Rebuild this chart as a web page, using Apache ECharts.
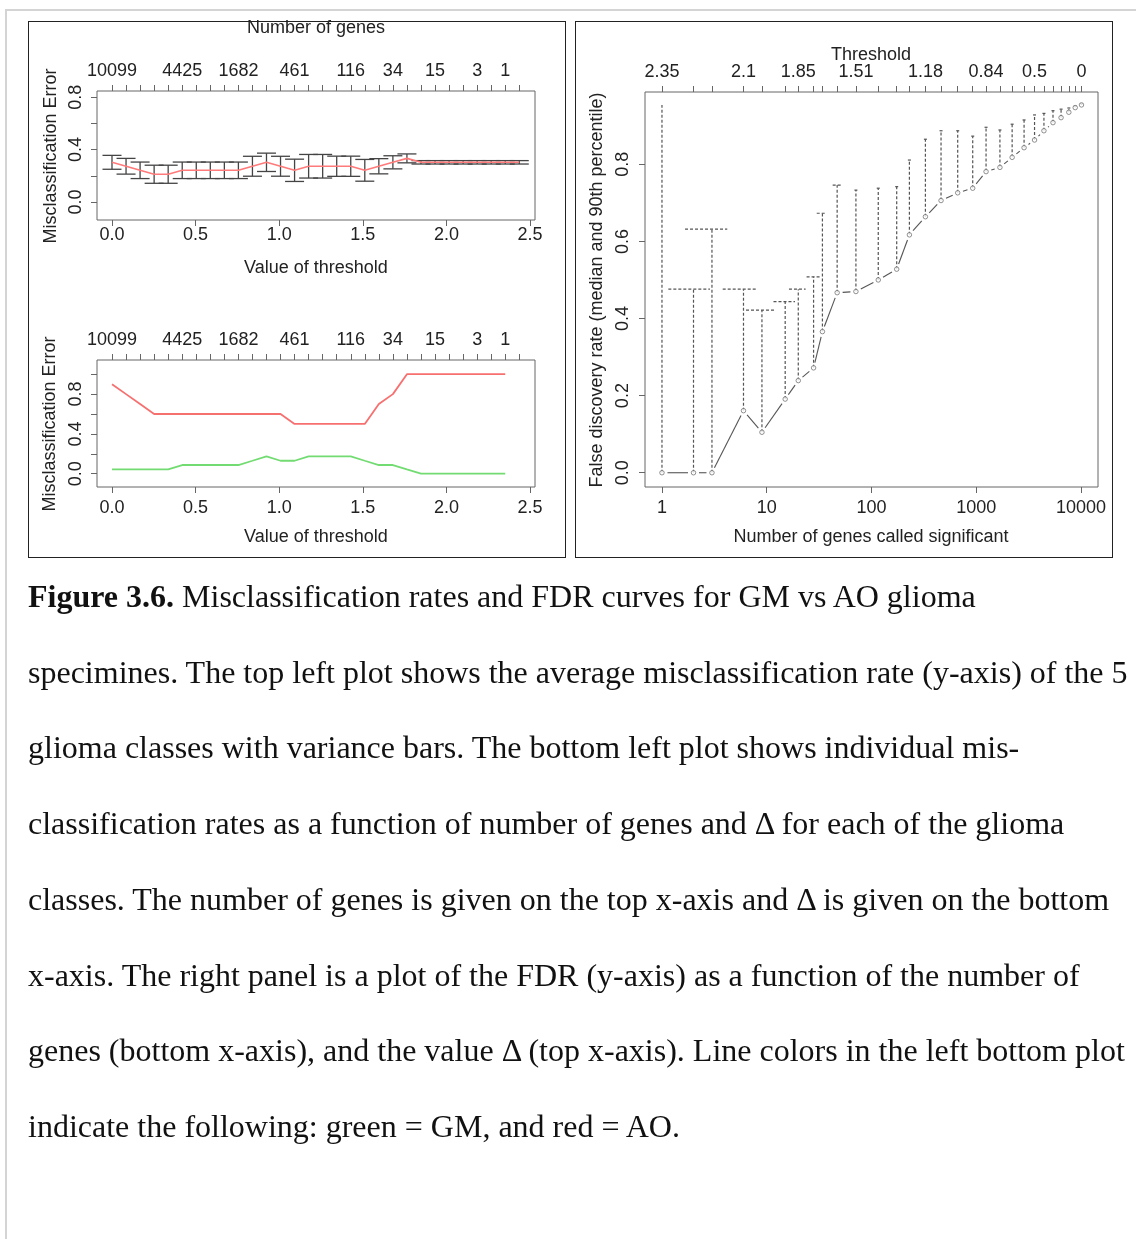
<!DOCTYPE html>
<html>
<head>
<meta charset="utf-8">
<script src="https://cdn.jsdelivr.net/npm/echarts@6/dist/echarts.min.js"></script>
<style>
html, body { margin: 0; padding: 0; background: #fff; }
body { width: 1136px; height: 1239px; position: relative; overflow: hidden; }
.frame { position: absolute; left: 5px; top: 9px; right: -4px; bottom: -4px; border-top: 2px solid #d4d4d4; border-left: 2px solid #d4d4d4; }
.panel { position: absolute; top: 21px; width: 538px; height: 537px; border: 1px solid #222; box-sizing: border-box; }
#chart { position: absolute; left: 0; top: 0; width: 1136px; height: 560px; }
.caption { position: absolute; left: 28px; top: 559px; font-family: "Liberation Serif", "Times New Roman", serif; font-size: 32px; line-height: 75.7px; color: #111; white-space: nowrap; }
</style>
</head>
<body>
<div class="frame"></div>
<div class="panel" style="left:28px"></div>
<div class="panel" style="left:575px"></div>
<div id="chart"></div>
<div class="caption"><b>Figure 3.6.</b> Misclassification rates and FDR curves for GM vs AO glioma<br>specimines. The top left plot shows the average misclassification rate (y-axis) of the 5<br>glioma classes with variance bars. The bottom left plot shows individual mis-<br>classification rates as a function of number of genes and Δ for each of the glioma<br>classes. The number of genes is given on the top x-axis and Δ is given on the bottom<br>x-axis. The right panel is a plot of the FDR (y-axis) as a function of the number of<br>genes (bottom x-axis), and the value Δ (top x-axis). Line colors in the left bottom plot<br>indicate the following: green = GM, and red = AO.</div>
<script>
// thresholds used by the classifier and genes kept at each one
var thresholds = [0, 0.084, 0.168, 0.252, 0.336, 0.42, 0.504, 0.588, 0.672, 0.756,
  0.84, 0.924, 1.008, 1.092, 1.176, 1.26, 1.344, 1.428, 1.512, 1.596,
  1.68, 1.764, 1.848, 1.932, 2.016, 2.1, 2.184, 2.268, 2.352, 2.436];
var genesAtThreshold = [10099, 8800, 7650, 6450, 5400, 4425, 3600, 2860, 2200, 1682,
  1240, 925, 665, 461, 327, 230, 174, 116, 71, 47,
  34, 28, 20, 15, 9, 6, 3, 2, 1, 0];
var genesLabelIdx = [0, 5, 9, 13, 17, 20, 23, 26, 28];

// top left: mean error and its spread
var errMean = [0.303, 0.273, 0.242, 0.212, 0.212, 0.242, 0.242, 0.242, 0.242, 0.242,
  0.273, 0.303, 0.273, 0.242, 0.273, 0.273, 0.273, 0.273, 0.242, 0.273,
  0.303, 0.333, 0.303, 0.303, 0.303, 0.303, 0.303, 0.303, 0.303, 0.303];
var errSE = [0.053, 0.06, 0.063, 0.069, 0.069, 0.063, 0.063, 0.063, 0.063, 0.063,
  0.076, 0.07, 0.076, 0.085, 0.09, 0.09, 0.077, 0.077, 0.083, 0.058,
  0.05, 0.034, 0.013, 0.013, 0.013, 0.013, 0.013, 0.013, 0.013, 0.013];

// bottom left: error per class
var errAO = [0.9, 0.8, 0.7, 0.6, 0.6, 0.6, 0.6, 0.6, 0.6, 0.6,
  0.6, 0.6, 0.6, 0.5, 0.5, 0.5, 0.5, 0.5, 0.5, 0.7,
  0.8, 1.0, 1.0, 1.0, 1.0, 1.0, 1.0, 1.0, 1.0];
var errGM = [0.043, 0.043, 0.043, 0.043, 0.043, 0.087, 0.087, 0.087, 0.087, 0.087,
  0.13, 0.174, 0.13, 0.13, 0.174, 0.174, 0.174, 0.174, 0.13, 0.087,
  0.087, 0.043, 0, 0, 0, 0, 0, 0, 0];

// right: FDR
var fdrGenes = [1, 2, 3, 6, 9, 15, 20, 28, 34, 47, 71, 116, 174, 230, 327, 461, 665, 925,
  1240, 1682, 2200, 2860, 3600, 4425, 5400, 6450, 7650, 8800, 10099];
var fdrMedian = [0, 0, 0, 0.161, 0.105, 0.191, 0.239, 0.272, 0.366, 0.467, 0.47, 0.5, 0.528,
  0.617, 0.664, 0.706, 0.726, 0.738, 0.781, 0.792, 0.818, 0.843, 0.863, 0.887, 0.908,
  0.921, 0.935, 0.947, 0.954];
var fdr90 = [0.954, 0.476, 0.632, 0.476, 0.422, 0.444, 0.476, 0.508, 0.673, 0.746, 0.733,
  0.738, 0.742, 0.811, 0.865, 0.887, 0.887, 0.873, 0.896, 0.889, 0.904, 0.915, 0.928,
  0.932, 0.939, 0.943, 0.946, 0.951, 0.957];
var capLow = [1, 1.15, 1.66, 3.8, 6.34, 11.6, 16.3, 24, 30, 42.6];
var capHigh = [1, 2.87, 4.2, 8.1, 12, 18.6, 23.5, 32.2, 37.3, 53];
var thresholdLabelGenes = [1, 6, 20, 71, 327, 1240, 3600, 10099];

var FONT = "Liberation Sans, Arial, sans-serif";
var TXT = "#222";
var TICK = { show: true, length: 6, lineStyle: { color: "#666", width: 1 } };

function idxOf(arr, v) {
  for (var i = 0; i < arr.length; i++) if (Math.abs(arr[i] - v) < 1e-6) return i;
  return -1;
}

function valAxis(grid, pos, min, max, ticks, labels, fmt, margin, rotate) {
  return {
    type: "value", gridIndex: grid, position: pos, min: min, max: max,
    axisLine: { show: false, onZero: false }, splitLine: { show: false },
    axisTick: Object.assign({ customValues: ticks }, TICK),
    axisLabel: { customValues: labels, formatter: fmt, color: TXT, fontSize: 18,
      fontFamily: FONT, margin: margin, rotate: rotate || 0 }
  };
}

var oneDec = function (v) { return v.toFixed(1); };
var geneLabel = function (v) { return String(genesAtThreshold[idxOf(thresholds, v)]); };
var logLabel = function (v) { return String(Math.round(Math.pow(10, v))); };
var thrLabel = function (v) {
  var g = Math.round(Math.pow(10, v));
  return String(Number(thresholds[genesAtThreshold.indexOf(g)].toFixed(2)));
};

var xThr = [0, 0.5, 1, 1.5, 2, 2.5];
var topLabelThr = genesLabelIdx.map(function (i) { return thresholds[i]; });
var logG = fdrGenes.map(function (g) { return Math.log10(g); });

function errBar(params, api) {
  var x = api.value(0);
  var a = api.coord([x, api.value(1)]);
  var b = api.coord([x, api.value(2)]);
  var w = 9.5;
  var st = { stroke: "#444", lineWidth: 1.3 };
  return { type: "group", children: [
    { type: "line", shape: { x1: a[0], y1: a[1], x2: b[0], y2: b[1] }, style: st },
    { type: "line", shape: { x1: a[0] - w, y1: a[1], x2: a[0] + w, y2: a[1] }, style: st },
    { type: "line", shape: { x1: b[0] - w, y1: b[1], x2: b[0] + w, y2: b[1] }, style: st }
  ]};
}

function fdrBar(params, api) {
  var x = api.value(0), up = api.value(2);
  var a = api.coord([x, api.value(1)]);
  var b = api.coord([x, up]);
  var cl = api.value(3), ch = api.value(4);
  var c1, c2;
  if (isNaN(cl)) { c1 = [b[0] - 1.5, b[1]]; c2 = [b[0] + 1.5, b[1]]; }
  else { c1 = api.coord([cl, up]); c2 = api.coord([ch, up]); }
  var st = { stroke: "#555", lineWidth: 1.2, lineDash: [3, 2] };
  return { type: "group", children: [
    { type: "line", shape: { x1: a[0], y1: a[1], x2: b[0], y2: b[1] }, style: st },
    { type: "line", shape: { x1: c1[0], y1: c1[1], x2: c2[0], y2: c2[1] }, style: st }
  ]};
}

// R's type="b": solid segments that stop short of each point
function gapSegment(params, api) {
  var p = api.coord([api.value(0), api.value(1)]);
  var q = api.coord([api.value(2), api.value(3)]);
  var dx = q[0] - p[0], dy = q[1] - p[1];
  var d = Math.sqrt(dx * dx + dy * dy);
  var gap = 5.5;
  if (d <= 2 * gap) return null;
  var ux = dx / d, uy = dy / d;
  return { type: "line",
    shape: { x1: p[0] + ux * gap, y1: p[1] + uy * gap, x2: q[0] - ux * gap, y2: q[1] - uy * gap },
    style: { stroke: "#555", lineWidth: 1.1 } };
}

function label(text, x, y, rot) {
  return { type: "text", x: x, y: y, rotation: rot || 0,
    style: { text: text, fill: TXT, fontSize: 18, fontFamily: FONT, align: "center", verticalAlign: "middle" } };
}

var chart = echarts.init(document.getElementById("chart"));
chart.setOption({
  animation: false,
  grid: [
    { left: 97, top: 91, width: 438, height: 129, show: true, borderColor: "#666", borderWidth: 1, outerBoundsMode: "none" },
    { left: 97, top: 360, width: 438, height: 127, show: true, borderColor: "#666", borderWidth: 1, outerBoundsMode: "none" },
    { left: 645, top: 92, width: 453, height: 395, show: true, borderColor: "#666", borderWidth: 1, outerBoundsMode: "none" }
  ],
  xAxis: [
    valAxis(0, "bottom", -0.0897, 2.53, xThr, xThr, oneDec, 6),
    valAxis(0, "top", -0.0897, 2.53, thresholds, topLabelThr, geneLabel, 11),
    valAxis(1, "bottom", -0.0897, 2.53, xThr, xThr, oneDec, 12),
    valAxis(1, "top", -0.0897, 2.53, thresholds, topLabelThr, geneLabel, 11),
    valAxis(2, "bottom", -0.162, 4.162, [0, 1, 2, 3, 4], [0, 1, 2, 3, 4], logLabel, 12),
    valAxis(2, "top", -0.162, 4.162, logG,
      thresholdLabelGenes.map(function (g) { return Math.log10(g); }), thrLabel, 11)
  ],
  yAxis: [
    valAxis(0, "left", -0.137, 0.847, [0, 0.2, 0.4, 0.6, 0.8], [0, 0.4, 0.8], oneDec, 12, 90),
    valAxis(1, "left", -0.134, 1.143, [0, 0.2, 0.4, 0.6, 0.8, 1.0], [0, 0.4, 0.8], oneDec, 12, 90),
    valAxis(2, "left", -0.037, 0.9875, [0, 0.2, 0.4, 0.6, 0.8], [0, 0.2, 0.4, 0.6, 0.8], oneDec, 13, 90)
  ],
  series: [
    { type: "custom", xAxisIndex: 0, yAxisIndex: 0, renderItem: errBar,
      data: thresholds.map(function (t, i) { return [t, errMean[i] - errSE[i], errMean[i] + errSE[i]]; }) },
    { type: "line", xAxisIndex: 0, yAxisIndex: 0, symbol: "none", z: 3,
      lineStyle: { color: "#ff7a7a", width: 1.6 },
      data: thresholds.map(function (t, i) { return [t, errMean[i]]; }) },
    { type: "line", xAxisIndex: 2, yAxisIndex: 1, symbol: "none",
      lineStyle: { color: "#f77070", width: 1.8 },
      data: errAO.map(function (v, i) { return [thresholds[i], v]; }) },
    { type: "line", xAxisIndex: 2, yAxisIndex: 1, symbol: "none",
      lineStyle: { color: "#72dc72", width: 1.8 },
      data: errGM.map(function (v, i) { return [thresholds[i], v]; }) },
    { type: "custom", xAxisIndex: 4, yAxisIndex: 2, renderItem: fdrBar,
      data: fdrGenes.map(function (g, i) {
        return [logG[i], fdrMedian[i], fdr90[i],
          i < capLow.length ? Math.log10(capLow[i]) : null,
          i < capHigh.length ? Math.log10(capHigh[i]) : null];
      }) },
    { type: "custom", xAxisIndex: 4, yAxisIndex: 2, renderItem: gapSegment,
      data: fdrGenes.slice(0, -1).map(function (g, i) {
        return [logG[i], fdrMedian[i], logG[i + 1], fdrMedian[i + 1]];
      }) },
    { type: "scatter", xAxisIndex: 4, yAxisIndex: 2, z: 3,
      symbol: "circle", symbolSize: 4.5,
      itemStyle: { color: "#fff", borderColor: "#666", borderWidth: 0.9 },
      data: fdrGenes.map(function (g, i) { return [logG[i], fdrMedian[i]]; }) }
  ],
  graphic: [
    label("Number of genes", 316, 28),
    label("Value of threshold", 316, 268),
    label("Misclassification Error", 51, 156, Math.PI / 2),
    label("Value of threshold", 316, 537),
    label("Misclassification Error", 50, 424, Math.PI / 2),
    label("Threshold", 871, 55),
    label("Number of genes called significant", 871, 537),
    label("False discovery rate (median and 90th percentile)", 597, 290, Math.PI / 2)
  ]
});
</script>
</body>
</html>
